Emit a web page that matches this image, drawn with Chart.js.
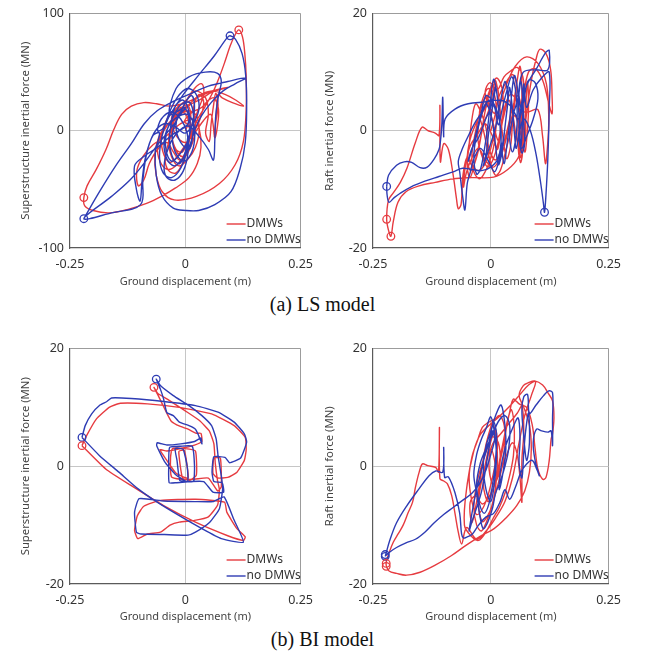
<!DOCTYPE html>
<html>
<head>
  <title>Inertial force vs ground displacement</title>
  <meta charset="utf-8" />
  <script src="https://cdn.jsdelivr.net/npm/chart.js"></script>
  <style>
    body {
      margin: 0;
      background: #fff;
      font-family: "Noto Sans", Arial, sans-serif;
    }
    #page {
      position: relative;
      width: 645px;
      height: 661px;
    }
    canvas {
      position: absolute;
    }
    .caption {
      position: absolute;
      left: 0;
      width: 645px;
      text-align: center;
      font-family: "Liberation Serif", "Times New Roman", serif;
      font-size: 20px;
      color: #111;
    }
  </style>
</head>
<body>
<div id="page">
  <canvas id="lsSuper" width="322" height="292" style="left:0;top:0"></canvas>
  <canvas id="lsRaft" width="325" height="292" style="left:305px;top:0"></canvas>
  <div class="caption" style="top:293px">(a) LS model</div>
  <canvas id="biSuper" width="322" height="292" style="left:0;top:335px"></canvas>
  <canvas id="biRaft" width="325" height="292" style="left:305px;top:335px"></canvas>
  <div class="caption" style="top:628px">(b) BI model</div>
</div>

<script>
  // [ground displacement (m), inertial force (MN)]
  const lsSuperDmw = [
    [0.000,0],[0.012,12],[0.004,22],[-0.015,16],[-0.028,2],[-0.024,-14],[-0.006,-22],[0.014,-12],[0.022,4],[0.018,20],
    [0.030,31],[0.040,24],[0.030,8],[0.010,-6],[-0.012,-19],[-0.032,-27],[-0.046,-21],[-0.052,-6],[-0.041,9],[-0.020,19],
    [0.002,26],[0.022,34],[0.044,28],[0.050,14],[0.044,-2],[0.052,-9],[0.056,6],[0.061,21],[0.066,32],[0.071,22],
    [0.066,7],[0.063,-5],[0.067,12],[0.071,31],[0.080,28],[0.102,24],[0.126,21],[0.110,26],[0.086,31],[0.058,34],
    [0.030,30],[0.004,21],[-0.026,11],[-0.048,-1],[-0.060,-13],[-0.055,-26],[-0.038,-33],[-0.018,-29],[0.000,-19],[0.012,-4],
    [0.024,8],[0.042,20],[0.060,33],[0.074,46],[0.086,59],[0.097,72],[0.107,81],[0.116,86],[0.124,80],[0.129,66],
    [0.132,46],[0.132,18],[0.126,-9],[0.108,-29],[0.074,-45],[0.024,-56],[-0.024,-59],[-0.050,-52],[-0.063,-38],[-0.066,-21],
    [-0.058,-6],[-0.042,4],[-0.020,12],[0.006,17],[0.024,13],[0.030,0],[0.022,-14],[0.006,-24],[-0.014,-30],[-0.030,-22],
    [-0.036,-8],[-0.028,6],[-0.010,14],[0.010,22],[0.034,27],[0.058,33],[0.092,37],[0.060,34],[0.024,28],[-0.006,23],
    [-0.034,21],[-0.062,23],[-0.090,24],[-0.117,21],[-0.138,14],[-0.155,1],[-0.172,-16],[-0.193,-33],[-0.213,-47],[-0.220,-57],
    [-0.218,-64],[-0.200,-68],[-0.165,-70],[-0.124,-67],[-0.084,-62],[-0.052,-56],[-0.022,-49],[0.008,-40],[0.026,-28],[0.034,-14],
    [0.030,2],[0.018,10],[-0.010,6],[-0.040,-4],[-0.070,-12],[-0.092,-22],[-0.105,-34],[-0.102,-47],[-0.090,-42],[-0.078,-28],
    [-0.060,-16],[-0.040,-10],[-0.026,-18],[-0.012,-25],[0.004,-20],[0.014,-8],[0.010,4],[-0.002,8],[0.016,16],[0.036,20],
    [0.050,26],[0.062,28],[0.072,18],[0.069,2],[0.064,-6],[0.060,6],[0.055,14],[0.040,9],[0.020,-2],[0.000,-10],
    [-0.020,-4],[-0.030,10],[-0.016,18],[0.004,12],[0.010,2],[0.028,18],[0.040,32],[0.036,40],[0.020,36],[0.000,24],
    [-0.020,8],[-0.036,-10],[-0.044,-24],[-0.036,-34],[-0.020,-36],[-0.004,-26],[0.008,-10],[0.012,6],[0.004,16],[-0.010,20],
    [-0.024,12],[-0.030,-2],[-0.020,-16],[-0.006,-18],[0.006,-8]
  ];
  const lsSuperNoDmw = [
    [-0.220,-75],[-0.186,-52],[-0.151,-30],[-0.117,-11],[-0.089,6],[-0.061,17],[-0.026,25],[0.008,31],[0.050,38],[0.092,42],
    [0.131,45],[0.108,40],[0.082,34],[0.056,24],[0.034,12],[0.020,0],[0.010,-12],[-0.006,-24],[-0.024,-30],[-0.040,-24],
    [-0.046,-10],[-0.036,4],[-0.016,12],[0.004,14],[0.018,6],[0.020,-8],[0.012,-20],[-0.004,-26],[-0.022,-18],[-0.028,-4],
    [-0.018,10],[0.000,20],[-0.034,14],[-0.020,36],[0.008,46],[0.043,50],[0.070,49],[0.078,42],[0.072,30],[0.066,13],
    [0.064,-8],[0.061,-25],[0.050,-16],[0.030,-5],[0.006,4],[-0.018,-2],[-0.036,-14],[-0.046,-30],[-0.040,-40],[-0.022,-42],
    [-0.004,-34],[0.006,-18],[0.004,-2],[-0.010,10],[-0.030,16],[-0.052,10],[-0.060,0],[-0.048,2],[-0.034,13],[-0.006,30],
    [0.028,47],[0.063,64],[0.090,79],[0.097,81],[0.109,78],[0.123,66],[0.131,47],[0.133,18],[0.130,-10],[0.119,-32],
    [0.099,-52],[0.064,-63],[0.029,-68],[0.001,-68],[-0.026,-66],[-0.051,-55],[-0.063,-38],[-0.065,-18],[-0.056,-2],[-0.070,-4],
    [-0.084,-20],[-0.092,-42],[-0.097,-63],[-0.160,-70],[-0.220,-75],[-0.160,-56],[-0.120,-42],[-0.090,-28],[-0.064,-14],[-0.040,-2],
    [-0.020,8],[0.000,24],[0.014,30],[0.020,20],[0.014,4],[0.004,-10],[-0.012,-20],[-0.030,-26],[-0.042,-16],[-0.040,0],
    [-0.026,12],[-0.010,22],[0.010,24],[0.018,12],[0.016,-4],[0.008,-16],[-0.010,-10],[-0.020,2],[-0.014,14],[0.002,18],
    [0.006,6],[-0.030,-4],[-0.060,-14],[-0.090,-22],[-0.110,-30],[-0.106,-50],[-0.098,-60],[-0.094,-44],[-0.086,-22],[-0.068,-2],
    [-0.046,6],[-0.024,4],[0.000,-2],[0.020,8],[0.030,20],[0.022,32],[0.004,36],[-0.018,28],[-0.036,14],[-0.050,-4],
    [-0.056,-22],[-0.048,-36],[-0.030,-40],[-0.010,-32],[0.004,-16],[0.010,0],[0.008,16],[-0.004,26],[-0.020,22],[-0.030,8],
    [-0.034,-10],[-0.026,-24],[-0.012,-28],[0.000,-18],[0.006,-4]
  ];

  const lsRaftDmw = [
    [0.000,0.0],[0.010,3.0],[0.016,6.5],[0.008,8.0],[-0.004,6.0],[-0.014,2.5],[-0.022,-1.5],[-0.030,-4.5],[-0.042,-6.8],[-0.050,-5.0],
    [-0.044,-1.5],[-0.030,1.5],[-0.016,3.5],[-0.002,7.0],[0.012,9.0],[0.024,7.2],[0.026,3.0],[0.018,-1.0],[0.008,-4.2],[-0.006,-6.2],
    [-0.020,-4.0],[-0.028,-0.8],[-0.020,2.6],[-0.006,4.2],[0.008,3.0],[0.018,6.0],[0.032,8.2],[0.046,9.6],[0.054,8.0],[0.050,4.2],
    [0.040,1.0],[0.030,-2.2],[0.020,-4.6],[0.006,-6.2],[-0.010,-5.2],[-0.026,-3.0],[-0.040,-4.6],[-0.052,-7.2],[-0.058,-9.6],[-0.054,-6.0],
    [-0.044,-2.6],[-0.028,-0.6],[-0.012,1.2],[0.004,-1.0],[0.014,-3.2],[0.022,0.2],[0.030,4.2],[0.042,6.2],[0.056,5.0],[0.064,2.0],
    [0.066,-2.0],[0.062,-3.8],[0.054,-1.0],[0.046,3.0],[0.038,5.2],[0.026,2.0],[0.016,-1.6],[0.006,1.0],[-0.004,4.2],[-0.012,6.6],
    [-0.002,8.2],[0.014,7.0],[0.028,9.2],[0.042,10.2],[0.056,10.8],[0.068,9.2],[0.072,5.0],[0.074,0.0],[0.068,-3.2],[0.076,3.0],
    [0.086,8.6],[0.096,12.2],[0.104,13.9],[0.117,13.2],[0.127,10.4],[0.130,6.0],[0.130,2.9],[0.122,5.0],[0.110,8.6],[0.094,10.6],
    [0.080,10.0],[0.070,6.0],[0.066,1.0],[0.067,-4.0],[0.063,-5.4],[0.058,-2.0],[0.062,3.0],[0.080,3.2],[0.100,3.6],[0.110,-1.0],
    [0.116,-5.6],[0.120,-3.0],[0.123,2.0],[0.118,8.0],[0.100,11.5],[0.076,12.6],[0.052,11.0],[0.034,8.0],[0.020,4.5],[0.010,0.5],
    [0.000,-3.0],[-0.012,-5.6],[-0.026,-6.8],[-0.040,-6.0],[-0.050,-4.5],[-0.059,-7.5],[-0.063,-12.5],[-0.069,-13.3],[-0.073,-11.5],[-0.080,-7.5],
    [-0.090,-3.2],[-0.100,-2.2],[-0.107,-5.3],[-0.108,4.3],[-0.110,-0.8],[-0.118,-0.4],[-0.133,0.0],[-0.146,0.6],[-0.160,-2.0],[-0.178,-6.4],
    [-0.192,-8.8],[-0.207,-10.6],[-0.217,-11.8],[-0.221,-15.1],[-0.217,-17.0],[-0.212,-18.0],[-0.207,-15.5],[-0.197,-12.2],[-0.180,-10.4],[-0.152,-9.4],
    [-0.118,-8.8],[-0.080,-8.2],[-0.040,-8.0],[0.006,-7.9],[0.036,-6.6],[0.058,-4.6],[0.068,-1.5],[0.066,3.0],[0.058,6.0],[0.046,4.0],
    [0.036,0.5],[0.024,-2.8],[0.010,-5.0],[-0.004,-3.0],[-0.010,0.4],[-0.020,3.0],[-0.032,4.6],[-0.040,2.0],[-0.046,-2.4],[-0.050,-6.2],
    [-0.044,-8.0],[-0.034,-5.4],[-0.024,-2.0],[-0.014,1.4],[-0.004,3.6],[0.004,6.4],[0.010,8.6],[0.018,5.0],[0.022,1.4],[0.028,-2.4],
    [0.034,-4.8],[0.042,-2.6],[0.046,1.2],[0.050,5.4],[0.056,8.6],[0.062,11.0],[0.066,7.0],[0.064,2.0],[0.060,-2.0],[0.064,-4.6],
    [0.070,-1.2],[0.074,4.0],[0.078,8.4],[0.080,3.6],[0.076,-1.6],[0.072,-3.6],[0.060,0.8],[0.050,2.6],[0.040,-0.8],[0.030,-4.0],
    [0.020,-6.8],[0.010,-7.6],[0.000,-5.6],[-0.008,-2.8],[-0.016,0.2],[-0.024,2.8],[-0.018,5.2],[-0.006,7.2],[0.008,6.0],[0.012,2.6],
    [0.008,-1.8],[0.000,-4.6],[-0.012,-7.0],[-0.024,-8.2],[-0.036,-7.0],[-0.040,-4.0],[-0.032,0.0],[-0.020,4.0],[-0.008,5.8],[0.002,2.0]
  ];
  const lsRaftNoDmw = [
    [-0.221,-9.5],[-0.220,-11.0],[-0.216,-12.2],[-0.205,-11.4],[-0.193,-10.7],[-0.170,-9.6],[-0.140,-8.6],[-0.110,-7.8],[-0.080,-7.0],[-0.060,-6.4],
    [-0.040,-6.6],[-0.020,-6.8],[0.000,-6.2],[0.016,-4.6],[0.022,-1.0],[0.016,2.6],[0.004,5.0],[-0.010,6.0],[-0.020,3.2],[-0.030,0.0],
    [-0.040,-3.2],[-0.048,-5.2],[-0.040,-3.0],[-0.026,-1.2],[-0.012,1.8],[0.000,4.0],[0.010,7.6],[0.004,4.2],[-0.004,0.0],[-0.010,-4.0],
    [-0.016,-6.0],[-0.006,-3.6],[0.006,-0.6],[0.014,2.0],[0.022,5.6],[0.030,8.4],[0.036,6.0],[0.032,2.0],[0.026,-1.8],[0.018,-4.8],
    [0.008,-7.0],[-0.006,-5.0],[-0.022,-3.0],[-0.036,-4.8],[-0.044,-7.2],[-0.050,-9.0],[-0.055,-13.5],[-0.060,-11.0],[-0.066,-7.0],[-0.069,-5.2],
    [-0.060,-3.0],[-0.046,-0.6],[-0.032,1.6],[-0.018,3.2],[-0.004,5.2],[0.008,4.0],[0.016,1.0],[0.024,3.6],[0.034,6.8],[0.044,9.2],
    [0.052,7.2],[0.056,3.2],[0.054,-0.8],[0.046,-3.6],[0.040,-1.0],[0.048,2.8],[0.058,5.6],[0.064,8.4],[0.068,5.2],[0.070,1.0],
    [0.072,-2.2],[0.066,-3.8],[0.060,-0.4],[0.064,3.8],[0.070,5.0],[0.076,7.7],[0.097,10.6],[0.117,13.4],[0.124,13.7],[0.121,10.4],
    [0.096,10.4],[0.069,10.0],[0.060,7.0],[0.064,4.0],[0.080,8.6],[0.094,8.2],[0.100,5.5],[0.090,2.0],[0.076,-1.0],[0.066,-3.0],
    [0.060,-1.0],[0.070,2.0],[0.084,0.0],[0.096,-4.0],[0.106,-9.0],[0.112,-12.6],[0.114,-13.9],[0.117,-11.0],[0.121,-4.8],[0.124,3.7],
    [0.124,10.0],[0.110,9.2],[0.090,7.0],[0.076,4.0],[0.070,8.0],[0.068,3.0],[0.064,-2.6],[0.060,2.2],[0.056,7.6],[0.050,9.4],
    [0.044,6.0],[0.040,1.6],[0.034,-2.6],[0.028,-5.6],[0.022,-2.0],[0.018,2.6],[0.012,6.8],[0.006,8.8],[0.000,5.6],[-0.006,1.0],
    [-0.014,-3.4],[-0.022,-6.6],[-0.030,-7.4],[-0.036,-4.4],[-0.030,-0.6],[-0.020,2.6],[-0.010,4.6],[0.002,2.0],[0.010,-2.4],[0.016,-5.8],
    [0.024,-3.6],[0.030,0.6],[0.036,4.6],[0.040,7.4],[0.046,3.6],[0.050,-0.4],[0.054,-3.0],[0.060,0.0],[0.064,4.0],[0.070,6.4],
    [0.060,2.0],[0.040,4.4],[0.020,5.2],[-0.014,4.9],[-0.048,4.6],[-0.076,3.7],[-0.097,2.0],[-0.100,-1.0],[-0.102,5.7],[-0.104,1.0],
    [-0.107,-1.9],[-0.110,-3.2],[-0.120,-4.8],[-0.135,-6.2],[-0.150,-6.3],[-0.168,-5.4],[-0.184,-5.3],[-0.200,-5.9],[-0.217,-7.6],[-0.221,-9.5]
  ];

  const biSuperDmw = [
    [-0.224,3.5],[-0.214,5.2],[-0.193,8.0],[-0.165,10.0],[-0.141,10.7],[-0.082,10.6],[-0.013,10.0],[0.057,8.9],[0.106,6.9],[0.130,4.9],
    [0.132,2.8],[0.128,1.0],[0.112,-1.0],[0.092,-1.9],[0.070,-2.0],[0.060,-1.2],[0.062,1.4],[0.076,1.4],[0.078,-3.5],[0.070,-4.2],
    [0.050,-2.0],[0.020,-2.2],[-0.010,-2.2],[-0.030,-1.8],[-0.032,1.5],[-0.028,3.0],[0.000,3.0],[0.022,2.6],[0.024,-1.5],[0.010,-2.4],
    [-0.006,-2.0],[-0.014,2.5],[-0.002,2.7],[0.006,-2.0],[-0.020,-1.2],[-0.040,1.0],[-0.055,2.8],[-0.040,2.6],[-0.010,3.0],[0.020,3.6],
    [0.036,4.2],[0.034,5.6],[0.024,5.6],[0.006,6.3],[-0.012,6.8],[-0.030,7.6],[-0.040,9.0],[-0.050,10.6],[-0.060,12.2],[-0.068,13.4],
    [-0.060,12.4],[-0.035,11.2],[0.000,9.4],[0.030,7.8],[0.052,6.0],[0.062,3.8],[0.065,0.5],[0.070,-2.5],[0.074,-4.0],[0.070,-6.6],
    [0.050,-8.6],[0.020,-9.2],[-0.013,-9.5],[-0.033,-10.0],[-0.054,-11.2],[-0.082,-11.5],[-0.103,-12.3],[-0.110,-10.9],[-0.104,-8.4],[-0.090,-6.8],
    [-0.054,-5.8],[0.022,-5.6],[0.085,-6.1],[0.090,-7.8],[0.112,-10.6],[0.130,-12.0],[0.126,-12.6],[0.092,-11.8],[0.022,-9.5],[-0.047,-6.7],
    [-0.117,-3.3],[-0.172,-0.5],[-0.224,3.5]
  ];
  const biSuperNoDmw = [
    [-0.224,4.9],[-0.217,6.9],[-0.203,8.9],[-0.185,10.4],[-0.170,11.0],[-0.160,11.6],[-0.117,11.5],[-0.047,11.0],[0.022,10.3],[0.071,9.2],
    [0.106,7.5],[0.128,5.5],[0.133,4.1],[0.120,1.4],[0.096,0.6],[0.086,1.5],[0.062,1.6],[0.058,-1.0],[0.062,-2.6],[0.080,-2.8],
    [0.083,-4.4],[0.060,-4.4],[0.040,-2.6],[0.010,-2.6],[-0.020,-2.8],[-0.035,-2.8],[-0.036,0.0],[-0.034,3.2],[-0.010,3.4],[0.015,3.4],
    [0.020,0.0],[0.018,-2.6],[0.004,-2.6],[-0.012,-2.4],[-0.018,1.0],[-0.022,3.0],[-0.005,2.9],[0.004,0.0],[0.005,-2.6],[-0.020,-1.5],
    [-0.045,0.8],[-0.062,3.5],[-0.061,4.0],[-0.040,3.6],[-0.010,3.8],[0.020,4.2],[0.034,4.8],[0.036,3.8],[0.029,5.2],[0.022,6.3],
    [0.008,6.9],[-0.013,7.5],[-0.026,8.6],[-0.040,9.1],[-0.047,11.4],[-0.054,13.1],[-0.063,14.8],[-0.054,13.7],[-0.026,12.0],[0.008,10.3],
    [0.036,8.6],[0.057,6.9],[0.067,4.6],[0.071,1.8],[0.078,-1.6],[0.081,-3.8],[0.074,-7.2],[0.053,-9.5],[0.022,-11.2],[0.006,-11.7],
    [-0.045,-11.6],[-0.096,-11.5],[-0.106,-11.2],[-0.110,-7.8],[-0.100,-5.5],[-0.047,-5.9],[0.022,-6.0],[0.060,-6.0],[0.084,-5.2],[0.105,-9.0],
    [0.126,-12.9],[0.078,-12.3],[0.036,-10.6],[-0.013,-8.4],[-0.061,-6.1],[-0.103,-3.8],[-0.144,-1.0],[-0.186,1.8],[-0.224,4.9]
  ];

  const biRaftDmw = [
    [-0.222,-16.9],[-0.216,-17.8],[-0.200,-18.2],[-0.179,-18.5],[-0.150,-18.0],[-0.118,-16.8],[-0.084,-15.2],[-0.052,-13.4],[-0.020,-11.8],[0.007,-10.6],
    [0.032,-8.8],[0.055,-6.7],[0.072,-4.2],[0.082,-1.0],[0.086,3.0],[0.082,7.0],[0.070,10.0],[0.060,12.0],[0.069,13.7],[0.080,14.2],
    [0.093,14.5],[0.110,13.8],[0.121,12.5],[0.131,11.1],[0.134,8.3],[0.131,5.5],[0.128,4.6],[0.124,1.0],[0.117,-1.9],[0.110,-2.2],
    [0.100,-0.5],[0.094,3.0],[0.088,7.0],[0.076,10.0],[0.060,10.6],[0.048,11.4],[0.040,9.2],[0.032,6.0],[0.024,2.4],[0.014,-1.0],
    [0.004,-4.0],[-0.006,-6.0],[-0.016,-3.0],[-0.010,1.0],[0.000,4.2],[0.010,6.2],[0.014,3.0],[0.006,-1.0],[-0.004,-4.4],[-0.016,-7.0],
    [-0.030,-8.2],[-0.040,-6.0],[-0.046,-2.0],[-0.040,1.6],[-0.028,4.4],[-0.018,6.6],[-0.006,7.4],[0.008,8.0],[0.020,8.6],[0.030,6.0],
    [0.028,2.0],[0.020,-1.6],[0.010,-4.6],[0.000,-7.4],[-0.010,-9.6],[-0.020,-11.0],[-0.030,-10.0],[-0.036,-7.0],[-0.030,-3.0],[-0.020,0.0],
    [-0.008,3.0],[0.004,5.0],[0.016,4.0],[0.020,1.0],[0.014,-2.0],[0.004,-3.0],[-0.004,0.6],[0.004,3.8],[0.022,5.6],[0.040,7.4],
    [0.056,9.0],[0.066,10.2],[0.070,6.0],[0.066,1.0],[0.066,-6.1],[0.062,-2.0],[0.056,2.0],[0.046,4.0],[0.034,2.0],[0.022,-0.6],
    [0.010,-2.8],[-0.004,-5.2],[-0.018,-6.4],[-0.032,-5.0],[-0.044,-6.2],[-0.040,-9.6],[-0.030,-6.0],[-0.022,-2.0],[-0.014,2.2],[-0.006,5.0],
    [0.004,7.2],[0.012,4.4],[0.014,0.0],[0.010,-3.6],[0.002,-6.8],[-0.008,-8.6],[-0.018,-9.4],[-0.026,-6.4],[-0.020,-2.6],[-0.010,0.8],
    [0.000,3.0],[0.008,1.0],[0.012,-1.8],[0.020,1.6],[0.028,4.8],[0.036,8.0],[0.044,9.6],[0.050,6.0],[0.048,1.8],[0.040,-1.6],
    [0.030,-4.6],[0.018,-7.0],[0.004,-9.0],[-0.012,-11.4],[-0.026,-12.6],[-0.040,-12.0],[-0.056,-10.0],[-0.050,-3.0],[-0.036,2.6],[-0.022,5.4],
    [0.000,7.2],[0.020,8.6],[0.040,10.2],[0.060,12.0],[0.080,13.8],[0.095,14.4],[0.086,12.0],[0.072,8.6],[0.060,4.0],[0.046,-2.0],
    [0.030,-6.0],[0.010,-8.8],[-0.010,-11.0],[-0.030,-12.4],[-0.050,-10.4],[-0.055,-11.0],[-0.062,-13.2],[-0.069,-11.2],[-0.076,-8.0],[-0.083,-5.0],
    [-0.092,-3.0],[-0.100,-2.5],[-0.108,-2.1],[-0.109,6.6],[-0.111,-1.0],[-0.117,-0.2],[-0.134,0.1],[-0.145,0.4],[-0.152,-1.0],[-0.160,-3.6],
    [-0.166,-6.1],[-0.176,-8.0],[-0.186,-10.0],[-0.196,-11.4],[-0.207,-12.9],[-0.215,-14.5],[-0.222,-16.3],[-0.222,-16.9]
  ];
  const biRaftNoDmw = [
    [-0.224,-15.3],[-0.215,-14.6],[-0.200,-13.8],[-0.180,-13.0],[-0.160,-12.4],[-0.140,-11.2],[-0.120,-9.6],[-0.100,-8.2],[-0.080,-7.0],[-0.060,-5.8],
    [-0.040,-4.6],[-0.024,-3.0],[-0.010,-0.6],[0.000,2.0],[0.008,4.6],[0.004,6.0],[-0.004,3.0],[-0.012,-1.0],[-0.020,-4.4],[-0.030,-7.0],
    [-0.040,-9.4],[-0.046,-11.0],[-0.040,-8.0],[-0.032,-4.6],[-0.024,-2.0],[-0.014,1.4],[-0.004,4.0],[0.006,7.4],[0.012,5.6],[0.010,1.0],
    [0.004,-3.0],[-0.004,-6.4],[-0.014,-8.0],[-0.024,-6.4],[-0.030,-3.0],[-0.022,0.6],[-0.010,3.0],[0.004,5.4],[0.016,7.6],[0.030,8.6],
    [0.040,7.0],[0.038,3.0],[0.030,0.0],[0.020,-2.6],[0.010,-4.6],[0.004,-7.0],[-0.006,-9.4],[-0.016,-10.6],[-0.024,-8.0],[-0.030,-4.6],
    [-0.036,-1.4],[-0.030,2.0],[-0.020,4.6],[-0.010,6.4],[0.000,8.4],[0.008,5.6],[0.012,1.6],[0.008,-2.6],[0.000,-6.0],[-0.010,-4.0],
    [-0.016,0.0],[-0.010,3.4],[0.000,6.0],[0.012,9.0],[0.022,10.4],[0.030,7.0],[0.032,3.0],[0.026,-1.0],[0.018,-4.0],[0.020,-1.0],
    [0.030,3.0],[0.046,6.4],[0.058,8.2],[0.062,4.6],[0.060,0.6],[0.066,-2.0],[0.070,2.4],[0.074,6.0],[0.080,9.0],[0.082,4.0],
    [0.076,1.0],[0.070,5.0],[0.066,9.6],[0.070,11.8],[0.078,12.2],[0.082,9.0],[0.096,10.4],[0.112,12.0],[0.123,12.8],[0.131,12.5],
    [0.131,8.0],[0.131,3.5],[0.128,6.0],[0.121,5.8],[0.108,6.0],[0.097,6.3],[0.090,4.0],[0.094,1.0],[0.103,-1.6],[0.098,-0.6],
    [0.088,1.0],[0.076,0.4],[0.064,-1.0],[0.052,-3.6],[0.040,-5.6],[0.030,-4.0],[0.020,-6.0],[0.006,-8.0],[-0.010,-8.6],[-0.026,-10.0],
    [-0.040,-11.6],[-0.050,-12.0],[-0.058,-12.2],[-0.062,-11.5],[-0.066,-8.0],[-0.076,-4.5],[-0.090,-1.8],[-0.098,-1.9],[-0.100,3.2],[-0.102,-1.0],
    [-0.117,-0.8],[-0.131,-1.6],[-0.152,-3.8],[-0.179,-6.8],[-0.200,-9.6],[-0.214,-12.5],[-0.224,-15.3]
  ];

  // peak points ringed on each plot
  const lsSuperPeaks = { dmw: [[-0.220,-57],[0.116,86]], noDmw: [[-0.220,-75],[0.097,81]] };
  const lsRaftPeaks = { dmw: [[-0.221,-15.1],[-0.212,-18.0]], noDmw: [[-0.221,-9.5],[0.114,-13.9]] };
  const biSuperPeaks = { dmw: [[-0.068,13.4],[-0.224,3.5]], noDmw: [[-0.063,14.8],[-0.224,4.9]] };
  const biRaftPeaks = { dmw: [[-0.222,-16.5],[-0.222,-17.0]], noDmw: [[-0.224,-15.3],[-0.224,-15.0]] };

  const RED = '#e63b40';
  const BLUE = '#2e3cb4';
  const FONT = '"Noto Sans", "DejaVu Sans", sans-serif';

  const toXY = arr => arr.map(p => ({ x: p[0], y: p[1] }));

  // legend drawn inside the plot, lower right corner
  const cornerLegend = {
    id: 'cornerLegend',
    afterDatasetsDraw(chart) {
      const { ctx, chartArea: a } = chart;
      const items = chart.data.datasets.filter(d => d.showLine);
      ctx.save();
      ctx.font = '12px ' + FONT;
      ctx.textBaseline = 'middle';
      items.forEach((d, i) => {
        const y = a.bottom - 24 + i * 16;
        ctx.strokeStyle = d.borderColor;
        ctx.lineWidth = 1.4;
        ctx.beginPath();
        ctx.moveTo(a.right - 74, y);
        ctx.lineTo(a.right - 55, y);
        ctx.stroke();
        ctx.fillStyle = '#333';
        ctx.fillText(d.label, a.right - 54, y);
      });
      ctx.restore();
    }
  };

  function makeChart(id, o) {
    const max = o.yMax;
    return new Chart(document.getElementById(id), {
      type: 'scatter',
      data: {
        datasets: [
          { label: 'DMWs', data: toXY(o.dmw), showLine: true, borderColor: RED, borderWidth: 1.4,
            pointRadius: 0, tension: o.tension, order: 2 },
          { label: 'no DMWs', data: toXY(o.noDmw), showLine: true, borderColor: BLUE, borderWidth: 1.4,
            pointRadius: 0, tension: o.tension, order: 1 },
          { label: 'DMWs peak', data: toXY(o.peaks.dmw), showLine: false, pointRadius: 3.8,
            pointBorderColor: RED, pointBackgroundColor: 'rgba(0,0,0,0)', pointBorderWidth: 1.3, order: 0 },
          { label: 'no DMWs peak', data: toXY(o.peaks.noDmw), showLine: false, pointRadius: 3.8,
            pointBorderColor: BLUE, pointBackgroundColor: 'rgba(0,0,0,0)', pointBorderWidth: 1.3, order: 0 }
        ]
      },
      options: {
        responsive: false,
        animation: false,
        layout: { padding: { top: o.top, right: o.right, left: 0, bottom: 0 } },
        plugins: { legend: { display: false }, tooltip: { enabled: false } },
        scales: {
          x: {
            type: 'linear', min: -0.25, max: 0.25,
            afterFit: s => { s.height = o.xHeight; },
            ticks: { stepSize: 0.25, padding: 9, color: '#333', font: { family: FONT, size: 12.5 },
                     callback: v => v === 0 ? '0' : v.toFixed(2) },
            grid: {
              drawTicks: false,
              color: c => c.tick.value === 0 ? '#c6c6c6' : (c.tick.value === 0.25 ? '#9c9c9c' : 'rgba(0,0,0,0)')
            },
            border: { color: '#5a5a5a', width: 1.2 },
            title: { display: true, text: 'Ground displacement (m)', color: '#444',
                     font: { family: FONT, size: 11 }, padding: { top: 0, bottom: 4 } }
          },
          y: {
            type: 'linear', min: -max, max: max,
            afterFit: s => { s.width = o.yWidth; },
            ticks: { stepSize: max, padding: 6, color: '#333', font: { family: FONT, size: 12.5 } },
            grid: {
              drawTicks: false,
              color: c => c.tick.value === 0 ? '#c6c6c6' : (c.tick.value === max ? '#9c9c9c' : 'rgba(0,0,0,0)')
            },
            border: { color: '#5a5a5a', width: 1.2 },
            title: { display: true, text: o.yTitle, color: '#444',
                     font: { family: FONT, size: 11.3 }, padding: { top: o.titlePad, bottom: 0 } }
          }
        }
      },
      plugins: [cornerLegend]
    });
  }

  makeChart('lsSuper', {
    dmw: lsSuperDmw, noDmw: lsSuperNoDmw, peaks: lsSuperPeaks, yMax: 100, tension: 0.35,
    yTitle: 'Superstructure inertial force (MN)', top: 11, right: 10, xHeight: 44, yWidth: 70, titlePad: 19
  });
  makeChart('lsRaft', {
    dmw: lsRaftDmw, noDmw: lsRaftNoDmw, peaks: lsRaftPeaks, yMax: 20, tension: 0.35,
    yTitle: 'Raft inertial force (MN)', top: 12, right: 13, xHeight: 44, yWidth: 68, titlePad: 18
  });
  makeChart('biSuper', {
    dmw: biSuperDmw, noDmw: biSuperNoDmw, peaks: biSuperPeaks, yMax: 20, tension: 0.15,
    yTitle: 'Superstructure inertial force (MN)', top: 13, right: 11, xHeight: 43, yWidth: 70, titlePad: 19
  });
  makeChart('biRaft', {
    dmw: biRaftDmw, noDmw: biRaftNoDmw, peaks: biRaftPeaks, yMax: 20, tension: 0.35,
    yTitle: 'Raft inertial force (MN)', top: 13, right: 13, xHeight: 43, yWidth: 68, titlePad: 18
  });
</script>
</body>
</html>
